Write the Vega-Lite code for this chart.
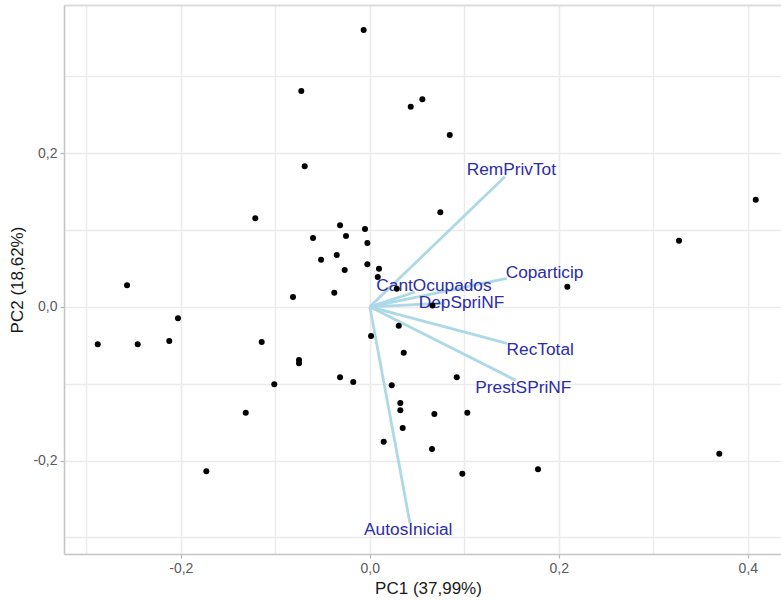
{
  "$schema": "https://vega.github.io/schema/vega-lite/v6.json",
  "width": 717,
  "height": 549,
  "autosize": {"type": "none"},
  "padding": {"left": 64, "top": 5, "right": 0, "bottom": 47},
  "background": "white",
  "config": {
    "view": {"stroke": null},
    "font": "Liberation Sans"
  },
  "datasets": {
    "scores": [
      {"pc1": -0.0065, "pc2": 0.360},
      {"pc1": -0.0725, "pc2": 0.2806},
      {"pc1": 0.0433, "pc2": 0.2602},
      {"pc1": 0.0556, "pc2": 0.2698},
      {"pc1": 0.0846, "pc2": 0.2234},
      {"pc1": -0.0689, "pc2": 0.1827},
      {"pc1": 0.0746, "pc2": 0.1229},
      {"pc1": -0.1212, "pc2": 0.1151},
      {"pc1": -0.0315, "pc2": 0.1060},
      {"pc1": -0.0051, "pc2": 0.1012},
      {"pc1": -0.0601, "pc2": 0.0895},
      {"pc1": -0.0252, "pc2": 0.0921},
      {"pc1": -0.0026, "pc2": 0.0830},
      {"pc1": -0.0516, "pc2": 0.0612},
      {"pc1": -0.0350, "pc2": 0.0674},
      {"pc1": -0.0266, "pc2": 0.0479},
      {"pc1": -0.0026, "pc2": 0.0553},
      {"pc1": 0.0097, "pc2": 0.0495},
      {"pc1": 0.0084, "pc2": 0.0388},
      {"pc1": -0.2569, "pc2": 0.0280},
      {"pc1": -0.0813, "pc2": 0.0127},
      {"pc1": -0.0376, "pc2": 0.0183},
      {"pc1": 0.0285, "pc2": 0.0235},
      {"pc1": 0.0663, "pc2": 0.0017},
      {"pc1": 0.4084, "pc2": 0.1393},
      {"pc1": 0.3272, "pc2": 0.0860},
      {"pc1": 0.2090, "pc2": 0.0261},
      {"pc1": -0.2879, "pc2": -0.0488},
      {"pc1": -0.2456, "pc2": -0.0488},
      {"pc1": -0.2122, "pc2": -0.0445},
      {"pc1": -0.2030, "pc2": -0.0150},
      {"pc1": -0.1144, "pc2": -0.0458},
      {"pc1": -0.0749, "pc2": -0.0692},
      {"pc1": -0.0749, "pc2": -0.0735},
      {"pc1": 0.0013, "pc2": -0.0380},
      {"pc1": -0.0315, "pc2": -0.0917},
      {"pc1": -0.0175, "pc2": -0.0978},
      {"pc1": -0.1011, "pc2": -0.1008},
      {"pc1": -0.1313, "pc2": -0.1377},
      {"pc1": -0.1730, "pc2": -0.2139},
      {"pc1": 0.0147, "pc2": -0.1754},
      {"pc1": 0.0232, "pc2": -0.1021},
      {"pc1": 0.0306, "pc2": -0.0246},
      {"pc1": 0.0359, "pc2": -0.0597},
      {"pc1": 0.0920, "pc2": -0.0917},
      {"pc1": 0.0323, "pc2": -0.1251},
      {"pc1": 0.0323, "pc2": -0.1346},
      {"pc1": 0.0683, "pc2": -0.1394},
      {"pc1": 0.1032, "pc2": -0.1377},
      {"pc1": 0.0348, "pc2": -0.1576},
      {"pc1": 0.0658, "pc2": -0.1849},
      {"pc1": 0.0979, "pc2": -0.2170},
      {"pc1": 0.1780, "pc2": -0.2113},
      {"pc1": 0.3698, "pc2": -0.1910}
    ],
    "vars": [
      {"name": "RemPrivTot", "x0": 0, "y0": 0, "x": 0.1429, "y": 0.1690, "lx": 0.1498, "ly": 0.1779},
      {"name": "Coparticip", "x0": 0, "y0": 0, "x": 0.1449, "y": 0.0371, "lx": 0.1849, "ly": 0.0436},
      {"name": "CantOcupados", "x0": 0, "y0": 0, "x": 0.0479, "y": 0.0192, "lx": 0.0679, "ly": 0.0264},
      {"name": "DepSpriNF", "x0": 0, "y0": 0, "x": 0.0796, "y": 0.0049, "lx": 0.0970, "ly": 0.0046},
      {"name": "RecTotal", "x0": 0, "y0": 0, "x": 0.1452, "y": -0.0477, "lx": 0.1803, "ly": -0.0562},
      {"name": "PrestSPriNF", "x0": 0, "y0": 0, "x": 0.1547, "y": -0.0958, "lx": 0.1624, "ly": -0.1056},
      {"name": "AutosInicial", "x0": 0, "y0": 0, "x": 0.0425, "y": -0.2814, "lx": 0.0407, "ly": -0.2906}
    ]
  },
  "layer": [
    {
      "data": {"name": "vars"},
      "mark": {"type": "rule", "color": "#ADD8E6", "strokeWidth": 2.8},
      "encoding": {
        "x": {
          "field": "x0", "type": "quantitative",
          "scale": {"domain": [-0.3236, 0.4351], "nice": false, "zero": false},
          "axis": {
            "orient": "top", "values": [-0.3, -0.1, 0.1, 0.3],
            "grid": true, "gridColor": "#EBEBEB", "gridWidth": 1.4,
            "labels": false, "ticks": false, "title": null,
            "domain": true, "domainColor": "#DCDCDC", "domainWidth": 2
          }
        },
        "y": {
          "field": "y0", "type": "quantitative",
          "scale": {"domain": [-0.3215, 0.3925], "nice": false, "zero": false},
          "axis": {
            "orient": "right", "values": [-0.3, -0.1, 0.1, 0.3],
            "grid": true, "gridColor": "#EBEBEB", "gridWidth": 1.4,
            "labels": false, "ticks": false, "title": null, "domain": false
          }
        },
        "x2": {"field": "x"},
        "y2": {"field": "y"}
      }
    },
    {
      "data": {"name": "vars"},
      "mark": {"type": "text", "color": "#2C2CA8", "fontSize": 17.3, "align": "center", "baseline": "middle", "font": "Liberation Sans"},
      "encoding": {
        "x": {"field": "lx", "type": "quantitative", "scale": {"domain": [-0.3236, 0.4351], "nice": false, "zero": false}, "axis": null},
        "y": {"field": "ly", "type": "quantitative", "scale": {"domain": [-0.3215, 0.3925], "nice": false, "zero": false}, "axis": null},
        "text": {"field": "name"}
      }
    },
    {
      "data": {"name": "scores"},
      "mark": {"type": "circle", "color": "black", "opacity": 1, "size": 36},
      "encoding": {
        "x": {
          "field": "pc1", "type": "quantitative",
          "scale": {"domain": [-0.3236, 0.4351], "nice": false, "zero": false},
          "axis": {
            "orient": "bottom", "values": [-0.2, 0, 0.2, 0.4],
            "labelExpr": "replace(replace(format(datum.value, '.1f'), '.', ','), '\u2212', '-')",
            "grid": true, "gridColor": "#EBEBEB", "gridWidth": 1.6,
            "domain": true, "domainColor": "#C4C4C4", "domainWidth": 1.5,
            "ticks": true, "tickColor": "#B3B3B3", "tickSize": 4, "tickWidth": 1.2,
            "labelFont": "Liberation Sans", "labelFontSize": 14, "labelColor": "#5A5A5A", "labelPadding": 3,
            "title": "PC1 (37,99%)", "titleFont": "Liberation Sans", "titleFontSize": 17, "titleFontWeight": "normal",
            "titleColor": "#1A1A1A", "titlePadding": 5, "titleX": 364
          }
        },
        "y": {
          "field": "pc2", "type": "quantitative",
          "scale": {"domain": [-0.3215, 0.3925], "nice": false, "zero": false},
          "axis": {
            "orient": "left", "values": [-0.2, 0, 0.2],
            "labelExpr": "replace(replace(format(datum.value, '.1f'), '.', ','), '\u2212', '-')",
            "grid": true, "gridColor": "#EBEBEB", "gridWidth": 1.6,
            "domain": true, "domainColor": "#C4C4C4", "domainWidth": 1.5,
            "ticks": true, "tickColor": "#B3B3B3", "tickSize": 4, "tickWidth": 1.2,
            "labelFont": "Liberation Sans", "labelFontSize": 14, "labelColor": "#5A5A5A", "labelPadding": 3,
            "title": "PC2 (18,62%)", "titleFont": "Liberation Sans", "titleFontSize": 17, "titleFontWeight": "normal",
            "titleColor": "#1A1A1A", "titlePadding": 6
          }
        }
      }
    }
  ],
  "resolve": {"axis": {"x": "independent", "y": "independent"}}
}
